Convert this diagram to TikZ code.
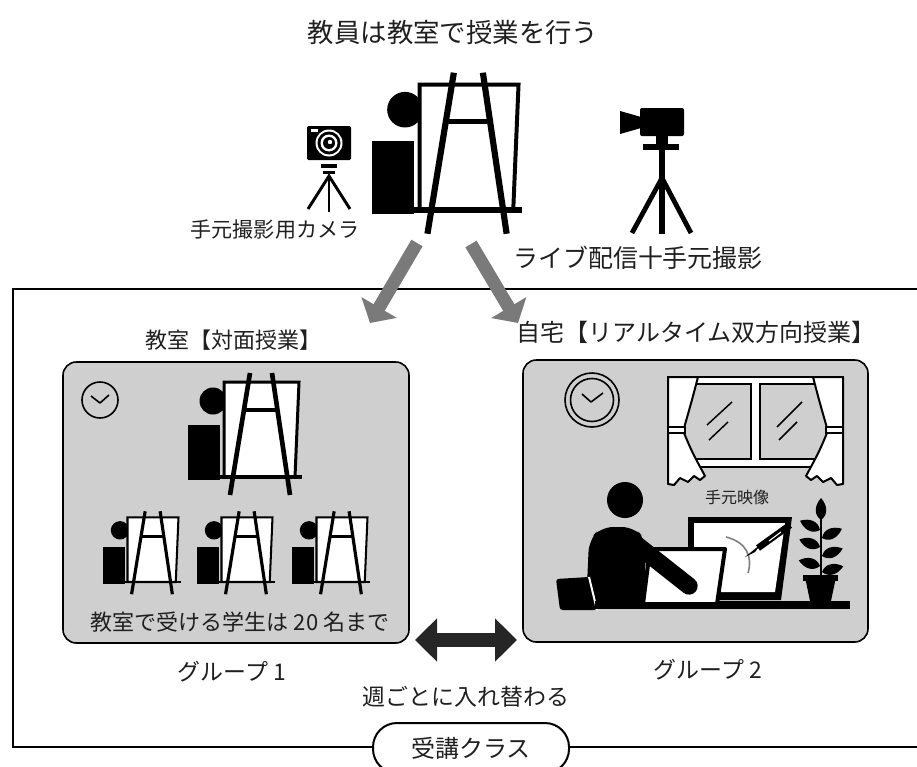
\documentclass[tikz,border=0pt]{standalone}
\usepackage{fontspec}
\setmainfont{Noto Sans CJK JP}
\usetikzlibrary{arrows.meta,fit}

% font size given in pt
\newcommand\jpsize[1]{\fontsize{#1}{#1}\selectfont}

% teacher at an easel; #1,#2 = left end of the shelf, #3 = scale
\newcommand\easelicon[3]{%
  \begin{scope}[shift={(#1,#2)}, xscale=#3, yscale=-#3]
    \fill (0,-3) rectangle (32,52);
    \fill (25,76) circle (13.5);
    \filldraw[fill=white, line width=2.25pt*#3, line join=miter]
      (36,95) -- (111,95) -- (107,0) -- (36,0) -- cycle;
    \draw[line width=3pt*#3] (0,0) -- (114,0);
    \draw[line width=3.5pt*#3] (62,104) -- (42,-18) (84,104) -- (102,-18);
    \draw[line width=3pt*#3] (56,67) -- (89.5,67);
  \end{scope}}

% pointed leaf; #1 = base point, #2 = direction angle (canvas degrees)
\newcommand\leaf[2]{%
  \fill[shift={#1}, rotate=#2]
    (0,0) .. controls (5,-7) and (14,-7) .. (22,0)
          .. controls (14,7) and (5,7) .. (0,0) -- cycle;}

\begin{document}
\begin{tikzpicture}[x=0.75pt, y=-0.75pt,
  txt/.style={inner sep=0pt, text=black!88},
  groupbox/.style={draw=black, line width=1.2pt, fill=gray!38, rounded corners=10pt, inner sep=0pt},
  grayarrow/.style={draw=black!52, line width=9.75pt, -{Triangle[width=30pt,length=13.5pt]}},
  swaparrow/.style={draw=black!85, line width=10.5pt,
    {Triangle[width=31.5pt,length=16.5pt]}-{Triangle[width=31.5pt,length=16.5pt]}},
  thinline/.style={line width=1.2pt, line join=round},
]
\useasboundingbox (0,0) rectangle (917,767);
\clip (0,0) rectangle (917,767);

% ---------- teacher in the classroom ----------
\node[txt] (title) at (453,32) {\jpsize{19.8pt}教員は教室で授業を行う};
\easelicon{372}{210}{1.32}

% hand camera on a small tripod
\fill[rounded corners=1pt] (307,126) rectangle (351,160);
\fill[white] (311,129) rectangle (318,132);
\fill[white] (329,143) circle (13.5);
\fill (329,143) circle (11.5);
\fill[white] (329,143) circle (8.5);
\fill (329,143) circle (6);
\fill[white] (330,142) circle (2.2);
\fill (321,164) rectangle (337,168);
\fill (323,171) rectangle (335,174);
\draw[line width=2.2pt] (329,174) -- (329,212);
\draw[line width=2.2pt] (329,176) -- (308,209) (329,176) -- (350,209);
\node[txt] (handcam) at (275,230) {\jpsize{15.8pt}手元撮影用カメラ};

% video camera on a tall tripod
\fill[rounded corners=1.5pt] (640,108) rectangle (684,136);
\fill (620,111) -- (641,117) -- (641,128) -- (620,134) -- cycle;
\fill (656,135) rectangle (668,145);
\fill (643,144) rectangle (679,150);
\draw[line width=4pt] (662,150) -- (662,234);
\draw[line width=3.6pt] (662,178) -- (632,233) (662,178) -- (691,233);
\node[txt] (livecam) at (638,258) {\jpsize{18.7pt}ライブ配信十手元撮影};

% ---------- class frame ----------
\draw[line width=1.5pt] (13,289) rectangle (940,747);

% group boxes
\node[groupbox, fit={(63,362) (409,643)}] (g1) {};
\node[groupbox, fit={(523,360) (868,642)}] (g2) {};

\node[txt] (t1) at (233,340) {\jpsize{16.5pt}教室【対面授業】};
\node[txt] (t2) at (696,332) {\jpsize{18pt}自宅【リアルタイム双方向授業】};

% arrows from the classroom to the two groups
\coordinate (la1) at (417,243);
\coordinate (la2) at (370,323);
\coordinate (ra1) at (471,244);
\coordinate (ra2) at (518,323);
\draw[grayarrow] (la1) -- (la2);
\draw[grayarrow] (ra1) -- (ra2);

% ---------- group 1: classroom ----------
\draw[thinline] (100,400) circle (18);
\draw[thinline] (91,396) -- (100,403) -- (109,395);
\easelicon{188}{477}{1}
\easelicon{103}{582}{0.68}
\easelicon{197}{582}{0.68}
\easelicon{292}{582}{0.68}
\node[txt] (limit) at (240,622) {\jpsize{16.5pt}教室で受ける学生は 20 名まで};

% ---------- group 2: home ----------
% wall clock
\draw[thinline] (592,400) circle (27);
\draw[thinline] (592,400) circle (21.5);
\draw[thinline] (582,394) -- (591,402) -- (603,393);

% window with curtains
\draw[fill=white, line width=1.5pt] (668,377) rectangle (843,467);
\draw[fill=gray!38, line width=1.5pt] (681,384) rectangle (751,459);
\draw[fill=gray!38, line width=1.5pt] (760,384) rectangle (830,459);
\draw[line width=1.1pt] (707,425) -- (732,402) (709,440) -- (728,422)
                        (777,427) -- (802,402) (779,440) -- (797,422);
\draw[fill=white, line width=1.5pt, line join=round]
  (668,377) -- (698,377) .. controls (692,400) .. (684,428) -- (684,433)
  .. controls (692,452) .. (705,476) -- (700,480) -- (694,476) -- (688,482)
  -- (680,478) -- (674,485) -- (668,484) -- cycle;
\draw[fill=white, line width=1.2pt] (668,427) rectangle (685,433);
\draw[fill=white, line width=1.5pt, line join=round]
  (843,377) -- (813,377) .. controls (819,400) .. (827,428) -- (827,433)
  .. controls (819,452) .. (806,476) -- (811,480) -- (817,476) -- (823,482)
  -- (831,478) -- (837,485) -- (843,484) -- cycle;
\draw[fill=white, line width=1.2pt] (826,427) rectangle (843,433);

\node[txt] (handvid) at (737,497) {\jpsize{12pt}手元映像};

% person at the desk
\fill (625,500) circle (18);
\fill[rounded corners=9pt] (586,608) -- (589,540) -- (601,527) -- (634,527)
  -- (646,540) -- (644,608) -- cycle;
\fill[rounded corners=2pt] (556,579) -- (589,577) -- (597,610) -- (560,610) -- cycle;
\draw[white, line width=1.5pt] (589,577) -- (597,610);
\fill (595,601) rectangle (850,609);

% monitor showing the hand camera image
\fill (688,517) -- (792,517) -- (781,600) -- (688,600) -- cycle;
\fill[white] (694,523) -- (785,523) -- (775,592) -- (694,592) -- cycle;
\draw[gray, line width=1.2pt] (726,537) .. controls (746,542) and (753,556) .. (748,573);
\draw[line width=5pt] (790,525) -- (758,548);
\fill (761,544) -- (755,552) -- (745,557) -- cycle;
\draw[white, line width=0.8pt] (781,532) -- (769,541);

% laptop and arm
\draw[fill=white, line width=3pt, line join=round]
  (650,549) -- (725,549) -- (717,604) -- (643,604) -- cycle;
\draw[line width=13pt, line cap=round] (637,545) -- (689,586);

% potted plant
\fill (805,577) -- (836,577) -- (831,601) -- (810,601) -- cycle;
\fill (803,575) rectangle (838,581);
\draw[line width=1.5pt] (821,577) -- (821,508);
\leaf{(821,520)}{90}
\leaf{(820,530)}{155}
\leaf{(820,547)}{160}
\leaf{(820,566)}{165}
\leaf{(822,538)}{25}
\leaf{(822,556)}{20}
\leaf{(822,572)}{15}

% ---------- labels and weekly swap ----------
\node[txt] (n1) at (232,672) {\jpsize{17.2pt}グループ 1};
\node[txt] (n2) at (708,670) {\jpsize{17.2pt}グループ 2};
\coordinate (da1) at (415,640);
\coordinate (da2) at (517,640);
\draw[swaparrow] (da1) -- (da2);
\node[txt] (swap) at (466,697) {\jpsize{17.2pt}週ごとに入れ替わる};

\node[draw, line width=1.5pt, fill=white, rounded corners=18pt,
      minimum width=147pt, minimum height=37.5pt, inner sep=0pt, text=black!88]
      (cls) at (471,748) {\jpsize{18pt}受講クラス};
\end{tikzpicture}
\end{document}
